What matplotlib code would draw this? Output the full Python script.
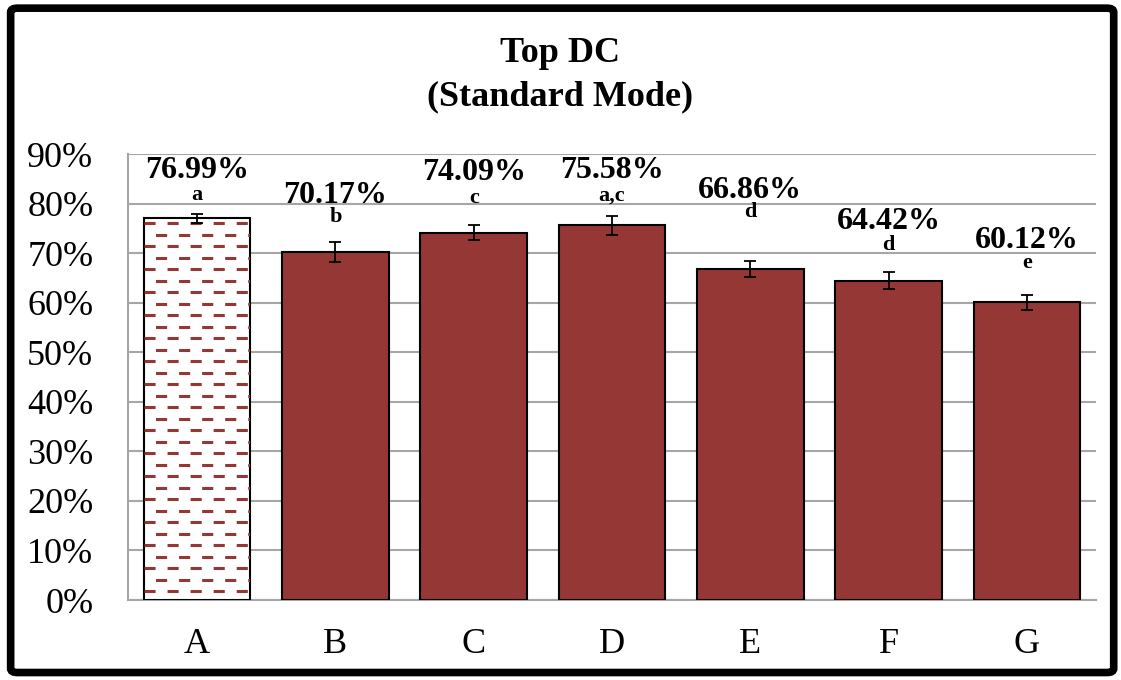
import numpy as np
import matplotlib
matplotlib.use('Agg')
import matplotlib.pyplot as plt
from matplotlib.patches import FancyBboxPatch

plt.rcParams['font.family'] = ['Liberation Serif', 'DejaVu Serif']
plt.rcParams['lines.scale_dashes'] = False

categories = ['A', 'B', 'C', 'D', 'E', 'F', 'G']
values = [76.99, 70.17, 74.09, 75.58, 66.86, 64.42, 60.12]
errors = [1.0, 2.0, 1.5, 2.0, 1.6, 1.7, 1.5]
letters = ['a', 'b', 'c', 'a,c', 'd', 'd', 'e']
# label baselines as they sit in the original (moved by hand there)
value_label_y = [85.1, 80.2, 84.8, 85.1, 81.2, 74.9, 71.0]
letter_label_y = [80.8, 76.2, 80.2, 80.6, 77.2, 70.6, 66.9]

red = '#953735'
grid_col = '#a6a6a6'

fig = plt.figure(figsize=(11.21, 6.8), dpi=100)
ax = fig.add_axes([0.1142, 0.1176, 0.8635, 0.6559])

x = np.arange(len(categories))
width = 0.77
colors = ['white'] + [red] * (len(categories) - 1)
bars = ax.bar(x, values, width=width, color=colors, edgecolor='black', lw=1.5, zorder=3)
ax.errorbar(x, values, yerr=errors, fmt='none', ecolor='black', elinewidth=1.3,
            capsize=4, capthick=1.3, zorder=5)

# dashed pattern inside bar A
b = bars[0]
x0, x1 = b.get_x(), b.get_x() + b.get_width()
row = 2.32
ys = np.arange(1.75, values[0] - 0.5, row)
for i, yy in enumerate(ys):
    off = 0 if i % 2 == 0 else 8.3
    ln, = ax.plot([x0, x1], [yy, yy], color=red, lw=2.2,
                  linestyle=(off, (8.0, 8.6)), zorder=4)
    ln.set_dash_capstyle('butt')
    ln.set_clip_path(b)

for xi, v, vy, lt, ly in zip(x, values, value_label_y, letters, letter_label_y):
    ax.text(xi, vy, '{:.2f}%'.format(v), ha='center', va='baseline',
            fontsize=23, fontweight='bold', zorder=6)
    ax.text(xi, ly, lt, ha='center', va='baseline', fontsize=16,
            fontweight='bold', zorder=6)

ax.set_xlim(-0.5, len(categories) - 0.5)
ax.set_ylim(0, 90)
ax.set_yticks(np.arange(0, 91, 10))
ax.set_yticklabels(['{}%'.format(t) for t in range(0, 91, 10)], fontsize=26)
ax.set_xticks(x)
ax.set_xticklabels(categories, fontsize=26)
ax.tick_params(axis='x', length=0, pad=20)
ax.tick_params(axis='y', length=0, pad=25)
ax.yaxis.grid(True, color=grid_col, lw=1.5, zorder=0)
ax.set_axisbelow(True)
for s in ['top', 'right']:
    ax.spines[s].set_visible(False)
ax.spines['left'].set_color(grid_col)
ax.spines['left'].set_linewidth(1.5)
ax.spines['bottom'].set_color(grid_col)
ax.spines['bottom'].set_linewidth(1.5)

fig.text(0.5, 0.909, 'Top DC', ha='center', va='baseline', fontsize=26, fontweight='bold')
fig.text(0.5, 0.845, '(Standard Mode)', ha='center', va='baseline', fontsize=26, fontweight='bold')

border = FancyBboxPatch((0.0095, 0.011), 0.984, 0.977, boxstyle='round,pad=0,rounding_size=0.006',
                        transform=fig.transFigure, fill=False, edgecolor='black', lw=5.5)
fig.patches.append(border)

plt.savefig('out.png', dpi=100)
